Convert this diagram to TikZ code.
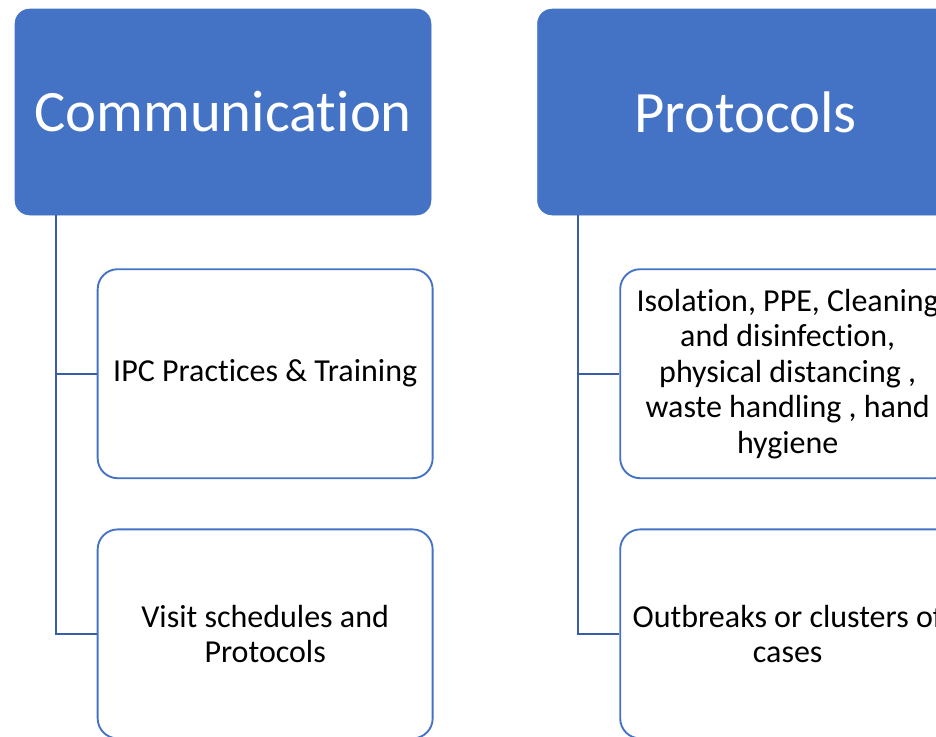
\documentclass[tikz,border=0pt]{standalone}
\usepackage{fontspec}
\setmainfont{Carlito}[Ligatures={NoCommon}]
\usetikzlibrary{positioning}
\definecolor{IpcBlue}{HTML}{4472C4}
\definecolor{IpcLink}{HTML}{3A5DAA}
\tikzset{
  ipchead/.style={
    fill=IpcBlue,
    draw=IpcBlue,
    rounded corners=11pt,
    minimum width=312pt,
    minimum height=154.5pt,
    inner sep=0pt,
    text=white,
    font=\fontsize{44}{52}\selectfont
  },
  ipcitem/.style={
    draw=IpcBlue,
    fill=white,
    line width=1.4pt,
    rounded corners=15pt,
    minimum width=251.25pt,
    minimum height=156.75pt,
    inner sep=0pt,
    align=center,
    font=\fontsize{24}{26.6}\selectfont
  },
  ipclink/.style={draw=IpcLink,line width=1.6pt}
}
\begin{document}
\begin{tikzpicture}
        \useasboundingbox (0,0) rectangle (702pt,-552pt);
        \clip (0,0) rectangle (702pt,-552pt);
        % column heads
        \node[ipchead] (comm) at (167.25pt,-84pt) {Communication};
        \node[ipchead,right=79.5pt of comm] (proto) {Protocols};
        % items under each head
        \node[ipcitem,below right=39.75pt and 61.5pt of comm.south west] (ipc) {IPC Practices \& Training};
        \node[ipcitem,below=37pt of ipc] (visit) {Visit schedules and\\Protocols};
        \node[ipcitem,below right=39.75pt and 61.5pt of proto.south west] (isol) {Isolation, PPE, Cleaning\\and disinfection,\\physical distancing ,\\waste handling , hand\\hygiene};
        \node[ipcitem,below=37pt of isol] (outbr) {Outbreaks or clusters of\\cases};
        % elbow links
        \coordinate (commstem) at ([xshift=30.75pt]comm.south west);
        \coordinate (protostem) at ([xshift=30.75pt]proto.south west);
        \draw[ipclink] (commstem) |- (ipc.west);
        \draw[ipclink] (commstem) |- (visit.west);
        \draw[ipclink] (protostem) |- (isol.west);
        \draw[ipclink] (protostem) |- (outbr.west);
      \end{tikzpicture}
\end{document}
